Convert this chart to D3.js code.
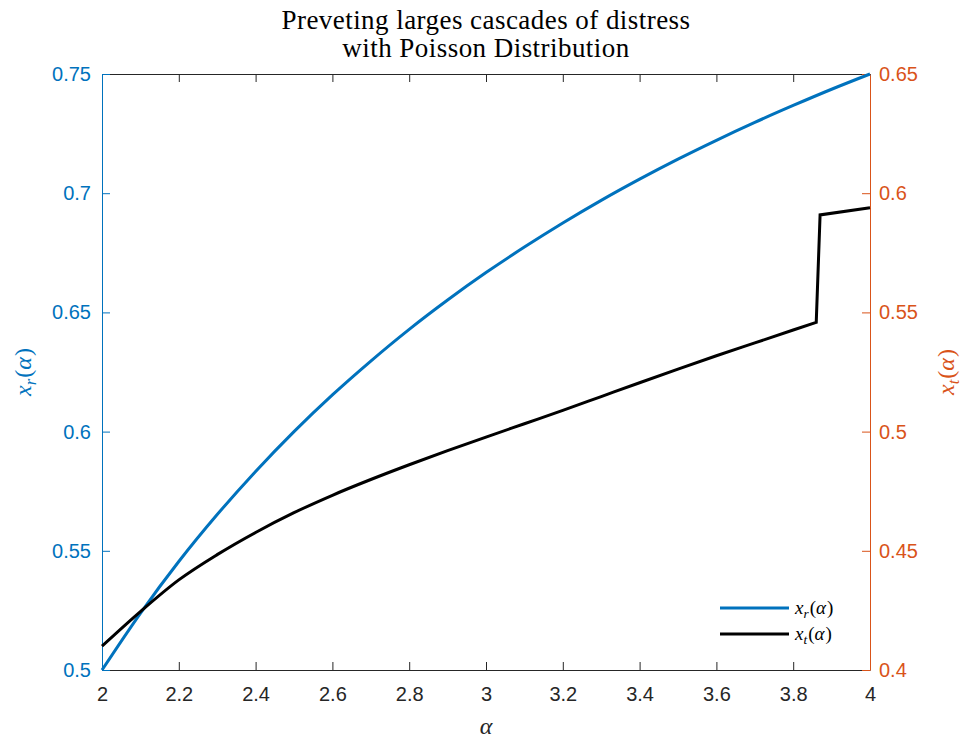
<!DOCTYPE html>
<html>
<head>
<meta charset="utf-8">
<script src="https://cdn.jsdelivr.net/npm/d3@7"></script>
<style>
  body { margin: 0; background: #fff; }
  svg { display: block; }
  .tick text { font-family: "Liberation Sans", Arial, Helvetica, sans-serif; }
</style>
</head>
<body>
<svg id="chart" width="965" height="738"></svg>
<script>
// ---- data ----
const titleLines = ["Preveting larges cascades of distress", "with Poisson Distribution"];
const alphaR = [2.0, 2.1, 2.2, 2.3, 2.4, 2.5, 2.6, 2.7, 2.8, 2.9, 3.0, 3.1, 3.2, 3.3, 3.4, 3.5, 3.6, 3.7, 3.8, 3.9, 4.0];
const xrValues = [0.5, 0.5238, 0.5455, 0.5652, 0.5833, 0.6, 0.6154, 0.6296, 0.6429, 0.6552, 0.6667, 0.6774, 0.6875, 0.6970, 0.7059, 0.7143, 0.7222, 0.7297, 0.7368, 0.7436, 0.75];
const alphaT = [2.0, 2.1, 2.2, 2.3, 2.4, 2.5, 2.6, 2.7, 2.8, 2.9, 3.0, 3.1, 3.2, 3.3, 3.4, 3.5, 3.6, 3.7, 3.8, 3.86, 3.87, 4.0];
const xtValues = [0.4100, 0.4245, 0.4378, 0.4484, 0.4577, 0.4660, 0.4733, 0.4799, 0.4861, 0.4920, 0.4977, 0.5033, 0.5089, 0.5147, 0.5205, 0.5262, 0.5318, 0.5372, 0.5426, 0.5458, 0.5909, 0.5939];
const xTicks = [2, 2.2, 2.4, 2.6, 2.8, 3, 3.2, 3.4, 3.6, 3.8, 4];
const leftTicks = [0.5, 0.55, 0.6, 0.65, 0.7, 0.75];
const rightTicks = [0.4, 0.45, 0.5, 0.55, 0.6, 0.65];
const jumpIndex = 19; // last point before the jump in x_t

const blue = "#0072BD", orange = "#D95319", dark = "#262626";
const L = 102, R = 870, T = 74, B = 670;

const svg = d3.select("#chart");
const x = d3.scaleLinear().domain([2, 4]).range([L, R]);
const yL = d3.scaleLinear().domain([0.5, 0.75]).range([B, T]);
const yR = d3.scaleLinear().domain([0.4, 0.65]).range([B, T]);

const fmt = d => String(+d.toFixed(2));
const tickFont = 20;

// bottom axis
const gB = svg.append("g").attr("transform", `translate(0,${B})`)
  .call(d3.axisBottom(x).tickValues(xTicks).tickSizeInner(-8).tickSizeOuter(0).tickPadding(17).tickFormat(fmt));
gB.select(".domain").attr("stroke", dark);
gB.selectAll(".tick line").attr("stroke", dark);
gB.selectAll(".tick text").attr("fill", dark).attr("font-size", tickFont);

// top axis (box)
const gT = svg.append("g").attr("transform", `translate(0,${T})`)
  .call(d3.axisTop(x).tickValues(xTicks).tickSizeInner(-8).tickSizeOuter(0).tickFormat(""));
gT.select(".domain").attr("stroke", dark);
gT.selectAll(".tick line").attr("stroke", dark);

// left axis
const gL = svg.append("g").attr("transform", `translate(${L},0)`)
  .call(d3.axisLeft(yL).tickValues(leftTicks).tickSizeInner(-8).tickSizeOuter(0).tickPadding(11).tickFormat(fmt));
gL.select(".domain").attr("stroke", blue);
gL.selectAll(".tick line").attr("stroke", blue);
gL.selectAll(".tick text").attr("fill", blue).attr("font-size", tickFont);

// right axis
const gR = svg.append("g").attr("transform", `translate(${R},0)`)
  .call(d3.axisRight(yR).tickValues(rightTicks).tickSizeInner(-8).tickSizeOuter(0).tickPadding(9).tickFormat(fmt));
gR.select(".domain").attr("stroke", orange);
gR.selectAll(".tick line").attr("stroke", orange);
gR.selectAll(".tick text").attr("fill", orange).attr("font-size", tickFont);

// lines
const ptsR = alphaR.map((a, i) => [a, xrValues[i]]);
const ptsT = alphaT.map((a, i) => [a, xtValues[i]]);
const smooth = d3.line().x(d => x(d[0])).curve(d3.curveMonotoneX);
const straight = d3.line().x(d => x(d[0]));
svg.append("path").attr("d", smooth.y(d => yL(d[1]))(ptsR))
  .attr("fill", "none").attr("stroke", blue).attr("stroke-width", 3);
const dSmoothT = smooth.y(d => yR(d[1]))(ptsT.slice(0, jumpIndex + 1));
const dJumpT = straight.y(d => yR(d[1]))(ptsT.slice(jumpIndex));
svg.append("path").attr("d", dSmoothT + dJumpT.replace(/^M/, "L"))
  .attr("fill", "none").attr("stroke", "#000").attr("stroke-width", 3);

// title
const serif = "'Liberation Serif','Times New Roman',serif";
titleLines.forEach((t, i) => {
  svg.append("text").attr("x", (L + R) / 2).attr("y", 29 + i * 28).attr("text-anchor", "middle")
    .attr("font-family", serif).attr("font-size", 27).attr("letter-spacing", 0.45)
    .attr("fill", "#000").text(t);
});

// math label helper
function mathLabel(g, sub, size) {
  const t = g.append("text").attr("font-family", serif).attr("font-size", size);
  t.append("tspan").attr("font-style", "italic").text("x");
  t.append("tspan").attr("font-style", "italic").attr("font-size", size * 0.7).attr("dy", size * 0.22).text(sub);
  t.append("tspan").attr("dy", -size * 0.22).attr("dx", 1).text("(");
  t.append("tspan").attr("font-style", "italic").text("α");
  t.append("tspan").attr("dx", 1).text(")");
  return t;
}

// axis labels
const yl = svg.append("g").attr("transform", `translate(31,${(T + B) / 2}) rotate(-90)`);
mathLabel(yl, "r", 24).attr("text-anchor", "middle").attr("fill", blue);
const yr = svg.append("g").attr("transform", `translate(954,${(T + B) / 2}) rotate(-90)`);
mathLabel(yr, "t", 24).attr("text-anchor", "middle").attr("fill", orange);
svg.append("text").attr("x", (L + R) / 2).attr("y", 734).attr("text-anchor", "middle")
  .attr("font-family", serif).attr("font-style", "italic").attr("font-size", 24).attr("fill", dark).text("α");

// legend
const legend = [{ sub: "r", color: blue }, { sub: "t", color: "#000" }];
legend.forEach((d, i) => {
  const yy = 608 + i * 26;
  svg.append("line").attr("x1", 720).attr("x2", 789).attr("y1", yy).attr("y2", yy)
    .attr("stroke", d.color).attr("stroke-width", 3);
  const g = svg.append("g").attr("transform", `translate(795,${yy + 6})`);
  mathLabel(g, d.sub, 19).attr("fill", "#000");
});
</script>
</body>
</html>
